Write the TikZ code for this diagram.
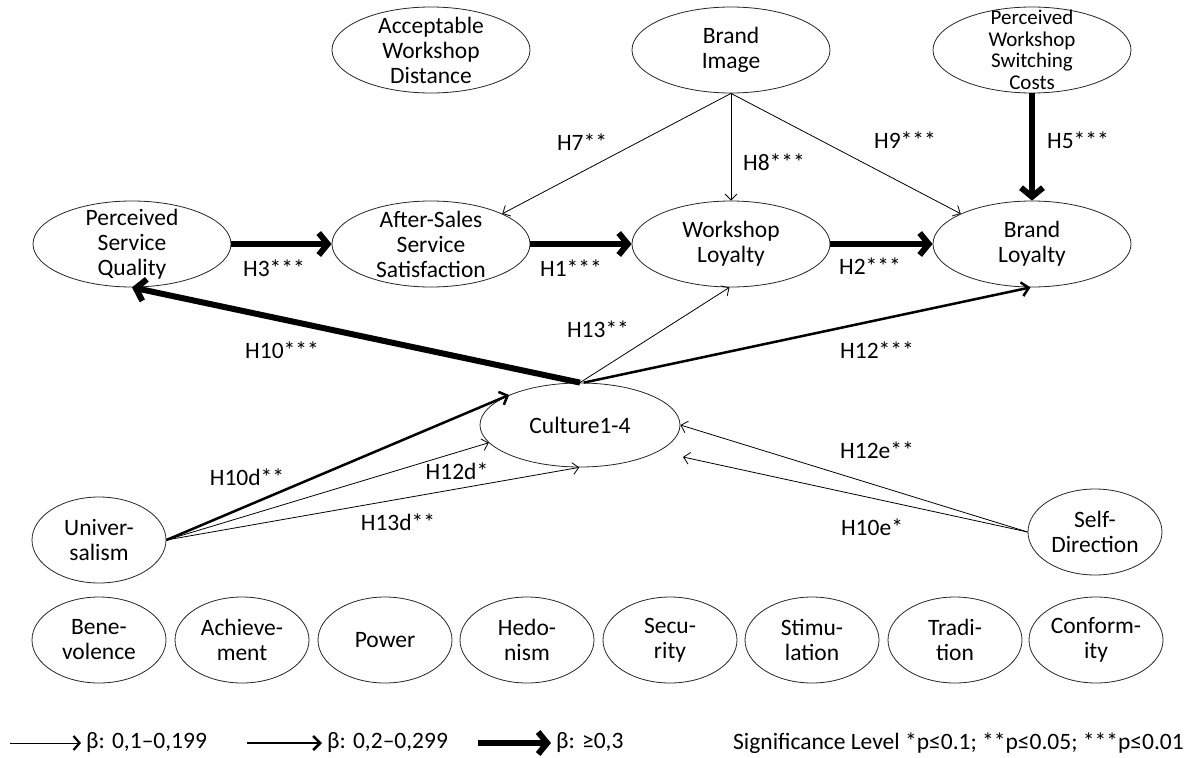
\documentclass[tikz,border=0pt]{standalone}
\usepackage{fontspec}
\setmainfont{Carlito}
\usetikzlibrary{arrows.meta,shapes.geometric}
\begin{document}
\begin{tikzpicture}[x=1pt,y=-1pt,
 ell/.style={ellipse,draw=black!85,line width=0.8pt,inner sep=0pt,minimum width=198pt,minimum height=86pt},
 sell/.style={ell,minimum width=134pt},
 txt/.style={align=center,inner sep=0pt,font=\fontsize{23.5}{25}\selectfont},
 txtt/.style={align=center,inner sep=0pt,font=\fontsize{21}{21.5}\selectfont},
 lab/.style={inner sep=1pt,font=\fontsize{23.5}{25}\selectfont},
 thinA/.style={line width=0.8pt,-{Straight Barb[length=6pt,width=12pt]}},
 medA/.style={line width=2.5pt,-{Straight Barb[length=7pt,width=14pt]}},
 thickA/.style={line width=6pt,-{Straight Barb[length=9pt,width=22pt]}},
 lgthin/.style={line width=1pt,-{Straight Barb[length=6pt,width=14pt,line width=2.2pt]}},
]
\fill[white] (0,0) rectangle (1195,758);
\useasboundingbox (0,0) rectangle (1195,758);

% top row
\node[ell,label={[txt]center:{Acceptable\\Workshop\\Distance}}] (awd) at (431,50) {};
\node[ell,label={[txt]center:{Brand\\Image}}] (bi) at (731,50) {};
\node[ell,label={[txtt]center:{Perceived\\Workshop\\Switching\\Costs}}] (pwsc) at (1032,50) {};
% middle row
\node[ell,label={[txt]center:{Perceived\\Service\\Quality}}] (psq) at (132,244) {};
\node[ell,label={[txt]center:{After-Sales\\Service\\Satisfaction}}] (ass) at (431,244) {};
\node[ell,label={[txt]center:{Workshop\\Loyalty}}] (wl) at (731,244) {};
\node[ell,label={[txt]center:{Brand\\Loyalty}}] (bl) at (1032,244) {};
% culture
\node[ell,minimum width=200pt,minimum height=84pt,label={[txt]center:{Culture1-4}}] (cult) at (580,425) {};
\node[sell,label={[txt]center:{Univer-\\salism}}] (univ) at (99,540) {};
\node[sell,label={[txt]center:{Self-\\Direction}}] (sd) at (1095,532) {};
% bottom row
\node[sell,label={[txt]center:{Bene-\\volence}}] (b1) at (99,640) {};
\node[sell,label={[txt]center:{Achieve-\\ment}}] (b2) at (242,640) {};
\node[sell,label={[txt]center:{Power}}] (b3) at (385,640) {};
\node[sell,label={[txt]center:{Hedo-\\nism}}] (b4) at (527,640) {};
\node[sell,label={[txt]center:{Secu-\\rity}}] (b5) at (670,640) {};
\node[sell,label={[txt]center:{Stimu-\\lation}}] (b6) at (812,640) {};
\node[sell,label={[txt]center:{Tradi-\\tion}}] (b7) at (955,640) {};
\node[sell,label={[txt]center:{Conform-\\ity}}] (b8) at (1096,640) {};

% arrows
\draw[thickA] (psq) -- (ass);
\draw[thickA] (ass) -- (wl);
\draw[thickA] (wl) -- (bl);
\draw[thickA] (pwsc) -- (bl);
\draw[thinA] (bi.south) -- (ass.23);
\draw[thinA] (bi.south) -- (wl.north);
\draw[thinA] (bi.south) -- (bl.157);
\draw[thickA] (cult.north) -- (psq.south);
\draw[thinA] (cult.north) -- (wl.268);
\draw[medA] (cult.85) -- (bl.268);
\draw[medA] (univ.east) -- (cult.157);
\draw[thinA] (univ.east) -- (cult.191);
\draw[thinA] (univ.east) -- (cult.269);
\coordinate (cultse) at (683,457);
\draw[thinA] (sd.west) -- (cult.east);
\draw[thinA] (sd.west) -- (cultse);

% labels
\node[lab] (l3) at (274,268) {H3***};
\node[lab] (l1) at (571,268) {H1***};
\node[lab] (l2) at (870,266) {H2***};
\node[lab] (l7) at (582,142) {H7**};
\node[lab] (l8) at (774,162) {H8***};
\node[lab] (l9) at (905,140) {H9***};
\node[lab] (l5) at (1078,140) {H5***};
\node[lab] (l10) at (282,350) {H10***};
\node[lab] (l13) at (598,329) {H13**};
\node[lab] (l12) at (877,350) {H12***};
\node[lab] (l10d) at (247,477) {H10d**};
\node[lab] (l12d) at (457,471) {H12d*};
\node[lab] (l13d) at (398,522) {H13d**};
\node[lab] (l12e) at (877,450) {H12e**};
\node[lab] (l10e) at (872,527) {H10e*};

% legend
\coordinate (g1s) at (10,743);
\node[lab,anchor=west,inner sep=0pt] (g1) at (86,743) {β: 0,1–0,199};
\draw[lgthin,shorten >=5pt] (g1s) -- (g1.west);
\coordinate (g2s) at (247,743);
\node[lab,anchor=west,inner sep=0pt] (g2) at (327,743) {β: 0,2–0,299};
\draw[medA,shorten >=5pt] (g2s) -- (g2.west);
\coordinate (g3s) at (478,743);
\node[lab,anchor=west,inner sep=0pt] (g3) at (556,743) {β: ≥0,3};
\draw[thickA,shorten >=5pt] (g3s) -- (g3.west);
\node[lab,anchor=east] (sig) at (1185,743) {Significance Level *p≤0.1; **p≤0.05; ***p≤0.01};
\end{tikzpicture}
\end{document}
